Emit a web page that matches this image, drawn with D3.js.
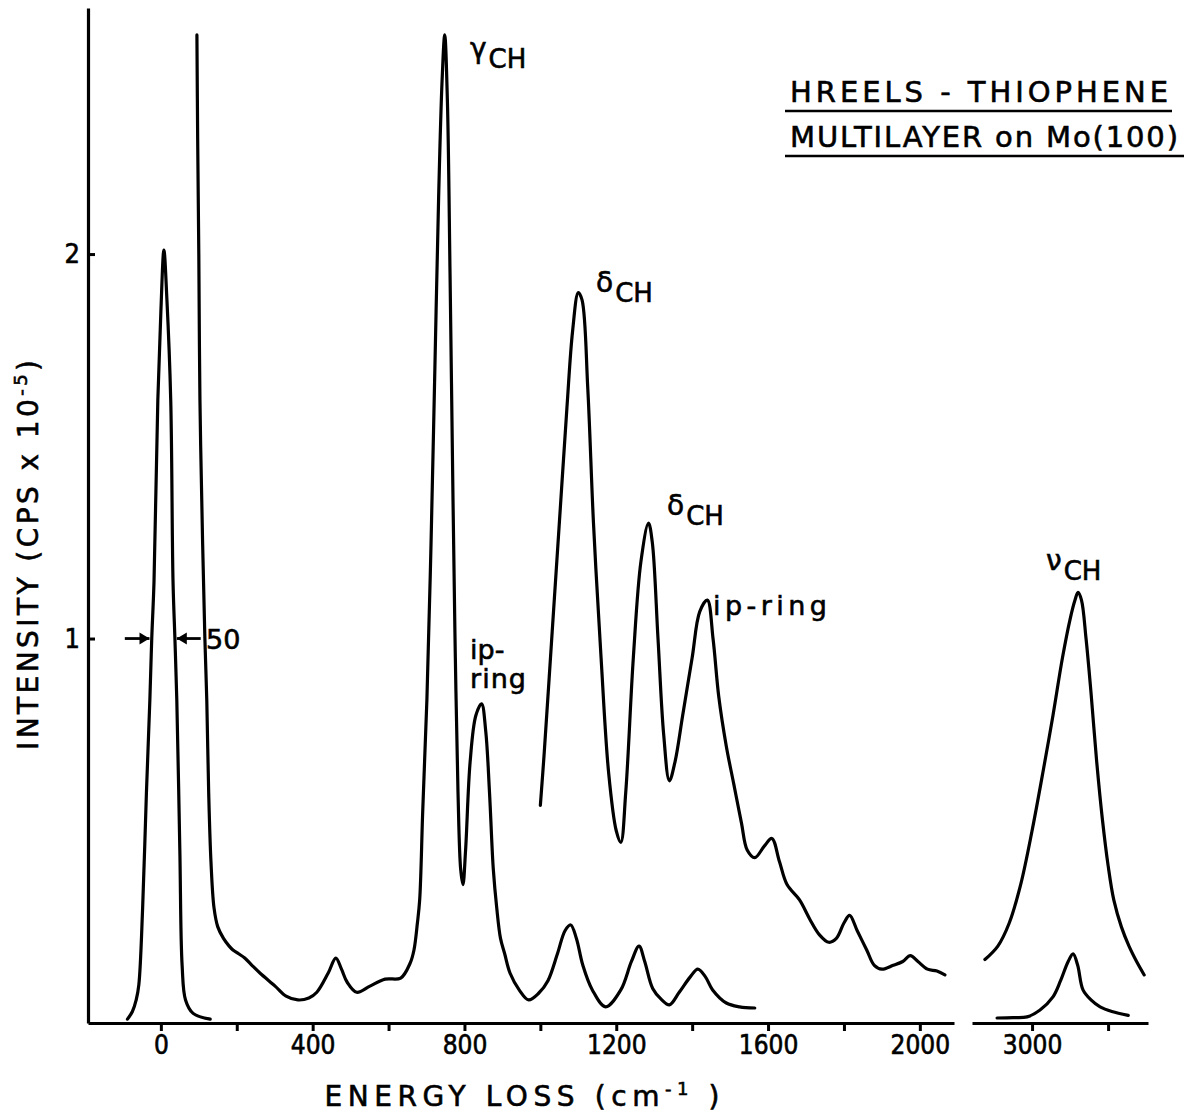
<!DOCTYPE html>
<html>
<head>
<meta charset="utf-8">
<script src="https://cdn.jsdelivr.net/npm/d3@7"></script>
<style>
  body { margin: 0; background: #fff; }
  text { font-family: "DejaVu Sans", sans-serif; fill: #000; stroke: #000; stroke-width: 0.6px; }
</style>
</head>
<body>
<script>
// HREELS spectrum of a thiophene multilayer
// each trace is [energy loss (cm-1), intensity (cps x 1e-5)]

const elasticPeak = [
  [-88, 0.01], [-75, 0.03], [-65, 0.06], [-58, 0.1], [-48, 0.3], [-38, 0.6], [-29, 0.84],
  [-24, 1.0], [-18, 1.15], [-8, 1.62], [0, 1.85], [8, 2.01], [16, 1.88], [26, 1.62],
  [32, 1.15], [37, 1.0], [42, 0.84], [50, 0.45], [56, 0.15], [65, 0.06], [85, 0.025], [130, 0.01]
];

const lossSpectrum = [
  [95, 2.57], [97, 2.3], [100, 2.0], [103, 1.62], [110, 1.25], [116, 1.0], [121, 0.84],
  [126, 0.6], [132, 0.42], [140, 0.3], [150, 0.25], [165, 0.22], [180, 0.2], [190, 0.19],
  [205, 0.18], [221, 0.169], [240, 0.15], [261, 0.13], [301, 0.096], [330, 0.07], [361, 0.06],
  [390, 0.065], [411, 0.08], [441, 0.13], [461, 0.169], [476, 0.14], [491, 0.106], [516, 0.08],
  [551, 0.096], [591, 0.114], [632, 0.117], [657, 0.156], [667, 0.19], [676, 0.26], [682, 0.32],
  [690, 0.55], [701, 0.84], [712, 1.25], [722, 1.7], [732, 2.15], [741, 2.45], [748, 2.57],
  [755, 2.4], [762, 1.95], [770, 1.35], [776, 0.95], [783, 0.6], [790, 0.4], [796, 0.36],
  [803, 0.45], [815, 0.68], [830, 0.8], [845, 0.83], [856, 0.76], [866, 0.6], [876, 0.4],
  [885, 0.3], [895, 0.22], [906, 0.18], [920, 0.13], [945, 0.085], [969, 0.06], [996, 0.078],
  [1020, 0.11], [1045, 0.18], [1065, 0.24], [1080, 0.255], [1095, 0.22], [1112, 0.15],
  [1137, 0.086], [1172, 0.042], [1212, 0.086], [1240, 0.16], [1260, 0.2], [1275, 0.16],
  [1296, 0.09], [1320, 0.06], [1340, 0.047], [1366, 0.08], [1395, 0.12], [1415, 0.14],
  [1435, 0.12], [1454, 0.086], [1490, 0.052], [1525, 0.042], [1565, 0.039]
];

const magnifiedSpectrum = [
  [1000, 0.566], [1010, 0.7], [1030, 1.0], [1050, 1.3], [1070, 1.6], [1085, 1.8], [1100, 1.9],
  [1110, 1.88], [1125, 1.65], [1140, 1.3], [1160, 0.95], [1180, 0.65], [1200, 0.5], [1212, 0.47],
  [1225, 0.6], [1245, 0.95], [1265, 1.2], [1285, 1.3], [1295, 1.25], [1310, 1.0], [1325, 0.75],
  [1340, 0.63], [1355, 0.68], [1375, 0.8], [1400, 0.95], [1420, 1.07], [1440, 1.1], [1455, 1.0],
  [1470, 0.85], [1490, 0.72], [1510, 0.62], [1530, 0.52], [1545, 0.45], [1565, 0.43],
  [1590, 0.46], [1610, 0.48], [1630, 0.42], [1650, 0.36], [1683, 0.32], [1710, 0.27],
  [1735, 0.23], [1760, 0.21], [1780, 0.22], [1800, 0.26], [1815, 0.28], [1835, 0.24],
  [1860, 0.19], [1880, 0.15], [1900, 0.14], [1930, 0.15], [1955, 0.16], [1975, 0.175],
  [1995, 0.16], [2020, 0.14], [2045, 0.135], [2066, 0.125]
];

const stretchMagnified = [
  [2876, 0.165], [2910, 0.2], [2940, 0.26], [2970, 0.36], [3000, 0.5], [3030, 0.66],
  [3055, 0.8], [3080, 0.95], [3100, 1.05], [3113, 1.1], [3121, 1.12], [3130, 1.1], [3142, 1.0],
  [3155, 0.86], [3170, 0.68], [3185, 0.53], [3200, 0.41], [3215, 0.32], [3235, 0.25],
  [3255, 0.2], [3275, 0.16], [3295, 0.125]
];

const stretchSpectrum = [
  [2908, 0.013], [2950, 0.014], [2987, 0.016], [3021, 0.034], [3055, 0.068], [3075, 0.11],
  [3095, 0.16], [3108, 0.18], [3120, 0.15], [3134, 0.086], [3155, 0.06], [3179, 0.042],
  [3210, 0.03], [3253, 0.02]
];

const lowTicks = [0, 200, 400, 600, 800, 1000, 1200, 1400, 1600, 1800, 2000];
const lowLabels = [0, 400, 800, 1200, 1600, 2000];
const highTicks = [3000, 3200];
const highLabels = [3000];
const intensityTicks = [1, 2];

const WIDTH = 1193;
const HEIGHT = 1120;

const svg = d3.select('body').append('svg')
  .attr('width', WIDTH)
  .attr('height', HEIGHT);

// two x panels share one scale factor, the second one is broken off at 3000
const xLow = d3.scaleLinear().domain([-192, 2090]).range([88, 954]);
const xHigh = d3.scaleLinear().domain([2842, 3305]).range([972, 1148]);
const y = d3.scaleLinear().domain([0, 2.64]).range([1023, 8]);

const trace = (xScale) => d3.line()
  .x(d => xScale(d[0]))
  .y(d => y(d[1]))
  .curve(d3.curveCatmullRom.alpha(0.5));

const drawTrace = (points, xScale) => {
  svg.append('path')
    .datum(points)
    .attr('d', trace(xScale))
    .attr('fill', 'none')
    .attr('stroke', '#000')
    .attr('stroke-width', 3.2)
    .attr('stroke-linejoin', 'round')
    .attr('stroke-linecap', 'round');
};

drawTrace(elasticPeak, xLow);
drawTrace(lossSpectrum, xLow);
drawTrace(magnifiedSpectrum, xLow);
drawTrace(stretchMagnified, xHigh);
drawTrace(stretchSpectrum, xHigh);

// axes
const styleAxis = (g) => {
  g.select('.domain').attr('stroke-width', 3.2);
  g.selectAll('.tick line').attr('stroke-width', 3);
  g.selectAll('.tick text')
    .attr('font-size', 26)
    .style('font-family', '"DejaVu Sans Condensed", "DejaVu Sans", sans-serif')
    .style('font-stretch', 'condensed')
    .style('stroke', '#000')
    .style('stroke-width', '0.6px');
  return g;
};

svg.append('g')
  .attr('transform', `translate(0,${y(0)})`)
  .call(d3.axisBottom(xLow)
    .tickValues(lowTicks)
    .tickSize(8)
    .tickSizeOuter(0)
    .tickPadding(5)
    .tickFormat(d => lowLabels.includes(d) ? d : ''))
  .call(styleAxis);

svg.append('g')
  .attr('transform', `translate(0,${y(0)})`)
  .call(d3.axisBottom(xHigh)
    .tickValues(highTicks)
    .tickSize(8)
    .tickSizeOuter(0)
    .tickPadding(5)
    .tickFormat(d => highLabels.includes(d) ? d : ''))
  .call(styleAxis);

svg.append('g')
  .attr('transform', `translate(${xLow(-192)},0)`)
  .call(d3.axisLeft(y)
    .tickValues(intensityTicks)
    .tickSize(-7)
    .tickSizeOuter(0)
    .tickPadding(8)
    .tickFormat(d3.format('d')))
  .call(styleAxis)
  .call(g => g.selectAll('.tick text').attr('font-size', 27));

// axis titles
const xTitle = svg.append('text')
  .attr('x', 522)
  .attr('y', 1106)
  .attr('text-anchor', 'middle')
  .attr('font-size', 28)
  .attr('textLength', 395)
  .attr('lengthAdjust', 'spacing');
xTitle.append('tspan').text('ENERGY  LOSS   (cm');
xTitle.append('tspan').attr('dy', -11).attr('font-size', 18).text('-1');
xTitle.append('tspan').attr('dy', 11).text(' )');

const yTitle = svg.append('text')
  .attr('transform', 'translate(38,555) rotate(-90)')
  .attr('text-anchor', 'middle')
  .attr('font-size', 28)
  .attr('textLength', 390)
  .attr('lengthAdjust', 'spacing');
yTitle.append('tspan').text('INTENSITY   (CPS x 10');
yTitle.append('tspan').attr('dy', -11).attr('font-size', 18).text('-5');
yTitle.append('tspan').attr('dy', 11).text(')');

// title block
const title = svg.append('g').attr('class', 'title');
title.append('text').attr('x', 790).attr('y', 102).attr('font-size', 29)
  .attr('textLength', 378).attr('lengthAdjust', 'spacing')
  .text('HREELS - THIOPHENE');
title.append('text').attr('x', 790).attr('y', 147).attr('font-size', 29)
  .attr('textLength', 388).attr('lengthAdjust', 'spacing')
  .text('MULTILAYER  on Mo(100)');
title.append('line').attr('x1', 785).attr('x2', 1172).attr('y1', 111).attr('y2', 111)
  .attr('stroke', '#000').attr('stroke-width', 2.5);
title.append('line').attr('x1', 785).attr('x2', 1184).attr('y1', 156).attr('y2', 156)
  .attr('stroke', '#000').attr('stroke-width', 2.5);

// peak labels with subscripts
const modeLabel = (x, yPos, symbol, sub) => {
  const t = svg.append('text').attr('x', x).attr('y', yPos).attr('font-size', 28);
  t.append('tspan').text(symbol);
  t.append('tspan').attr('dy', 10).attr('dx', 2).attr('font-size', 26).text(sub);
};

modeLabel(470, 58, 'γ', 'CH');
modeLabel(596, 292, 'δ', 'CH');
modeLabel(667, 515, 'δ', 'CH');
modeLabel(1046, 570, 'ν', 'CH');

svg.append('text').attr('x', 713).attr('y', 615).attr('font-size', 27)
  .attr('textLength', 114).attr('lengthAdjust', 'spacing').text('ip-ring');
svg.append('text').attr('x', 470).attr('y', 659).attr('font-size', 27).text('ip-');
svg.append('text').attr('x', 470).attr('y', 688).attr('font-size', 27)
  .attr('textLength', 56).attr('lengthAdjust', 'spacing').text('ring');

// resolution marker at half height of the elastic peak
const marker = svg.append('g');
const arrow = (xFrom, xTo) => {
  marker.append('line').attr('x1', xFrom).attr('x2', xTo).attr('y1', y(1)).attr('y2', y(1))
    .attr('stroke', '#000').attr('stroke-width', 2.8);
  const dir = Math.sign(xTo - xFrom);
  marker.append('path')
    .attr('d', `M${xTo},${y(1)} L${xTo - dir * 10},${y(1) - 6} L${xTo - dir * 10},${y(1) + 6} Z`)
    .attr('fill', '#000');
};
arrow(xLow(-95), xLow(-30));
arrow(xLow(105), xLow(42));
marker.append('text').attr('x', 206).attr('y', y(1) + 10).attr('font-size', 27).text('50');
</script>
</body>
</html>
